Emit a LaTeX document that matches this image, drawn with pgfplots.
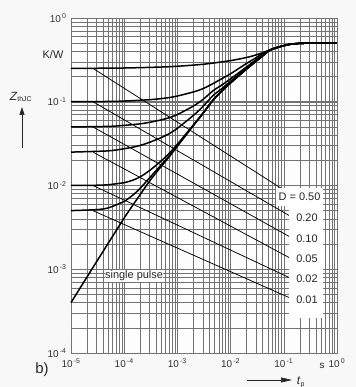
\documentclass[border=0pt]{standalone}
\usepackage{fontspec}
\setmainfont{Liberation Sans}
\usepackage{pgfplots}
\pgfplotsset{compat=1.18}
\usetikzlibrary{arrows.meta}
\definecolor{bg}{RGB}{248,248,248}
\definecolor{gridc}{RGB}{115,115,115}
\begin{document}
\begin{tikzpicture}
\useasboundingbox[fill=bg] (-71bp,-34bp) rectangle (285bp,353bp);
\begin{axis}[
  at={(0,0)}, anchor=south west,
  scale only axis, width=266bp, height=335bp,
  xmode=log, ymode=log,
  xmin=1e-5, xmax=1, ymin=1e-4, ymax=1,
  axis background/.style={fill=white!70!bg},
  axis line style={gridc, line width=0.5bp},
  grid=both,
  major grid style={gridc, line width=0.55bp},
  minor grid style={gridc, line width=0.5bp},
  major tick length=0pt, minor tick length=0pt,
  xtick={1e-5,1e-4,1e-3,1e-2,1e-1,1},
  xticklabels={10\textsuperscript{\,-5},10\textsuperscript{\,-4},10\textsuperscript{\,-3},10\textsuperscript{\,-2},10\textsuperscript{\,-1},10\textsuperscript{\,0}},
  ytick={1e-4,1e-3,1e-2,1e-1,1},
  yticklabels={10\textsuperscript{\,-4},10\textsuperscript{\,-3},10\textsuperscript{\,-2},10\textsuperscript{\,-1},10\textsuperscript{\,0}},
  tick label style={font=\fontsize{10}{12}\selectfont, text=black!80},
  xticklabel style={yshift=-2.5bp},
  yticklabel style={xshift=-1bp},
  clip=false,
]
% single pulse
\addplot[black, line width=1.5bp, smooth, tension=0.4] coordinates {
(1e-5,4.0e-4)(3e-5,1.22e-3)(5e-5,2.04e-3)(1e-4,4.1e-3)(1.5e-4,6.0e-3)(2e-4,7.8e-3)(3e-4,1.13e-2)(5e-4,1.70e-2)(7e-4,2.2e-2)(1e-3,2.95e-2)(2e-3,5.2e-2)(3e-3,7.2e-2)(4.7e-3,0.105)(7e-3,0.136)(1e-2,0.168)(2e-2,0.246)(3e-2,0.304)(4e-2,0.352)(5.5e-2,0.415)(8.5e-2,0.455)(0.13,0.485)(0.2,0.498)(0.3,0.5)(1,0.5)};
% D = 0.01
\addplot[black, line width=1.5bp, smooth, tension=0.4] coordinates {
(1e-5,0.005016)(3e-5,0.005147)(5e-5,0.0054)(1e-4,0.006466)(1.5e-4,0.00781)(2e-4,0.00926)(3e-4,0.01236)(5e-4,0.01772)(7e-4,0.02256)(1e-3,0.02992)(2e-3,0.05224)(3e-3,0.07217)(4.7e-3,0.10512)(7e-3,0.1361)(1e-2,0.1681)(2e-2,0.2461)(3e-2,0.3041)(4e-2,0.3520)(5.5e-2,0.415)(8.5e-2,0.455)(0.13,0.485)(0.2,0.498)(0.3,0.5)(1,0.5)};
% D = 0.02
\addplot[black, line width=1.5bp, smooth, tension=0.4] coordinates {
(1e-5,0.01001)(3e-5,0.01007)(5e-5,0.01021)(1e-4,0.01081)(1.5e-4,0.01166)(2e-4,0.01268)(3e-4,0.01509)(5e-4,0.01972)(7e-4,0.02417)(1e-3,0.03115)(2e-3,0.05295)(3e-3,0.07269)(4.7e-3,0.10548)(7e-3,0.1364)(1e-2,0.1683)(2e-2,0.2462)(3e-2,0.3042)(4e-2,0.3521)(5.5e-2,0.415)(8.5e-2,0.455)(0.13,0.485)(0.2,0.498)(0.3,0.5)(1,0.5)};
% D = 0.05
\addplot[black, line width=1.5bp, smooth, tension=0.4] coordinates {
(1e-5,0.02505)(5e-5,0.0259)(1e-4,0.0275)(1.5e-4,0.0288)(2e-4,0.0301)(3e-4,0.0328)(5e-4,0.0374)(7e-4,0.0416)(1e-3,0.0482)(2e-3,0.0687)(3e-3,0.0874)(4.7e-3,0.119)(7e-3,0.145)(1e-2,0.176)(2e-2,0.2510)(3e-2,0.3086)(4e-2,0.3562)(5.5e-2,0.415)(8.5e-2,0.455)(0.13,0.485)(0.2,0.498)(0.3,0.5)(1,0.5)};
% D = 0.1
\addplot[black, line width=1.5bp, smooth, tension=0.4] coordinates {
(1e-5,0.05001)(5e-5,0.0508)(1e-4,0.0522)(2e-4,0.0545)(3e-4,0.0568)(5e-4,0.0608)(7e-4,0.0645)(1e-3,0.0703)(2e-3,0.0889)(3e-3,0.1061)(4.7e-3,0.1356)(7e-3,0.160)(1e-2,0.188)(2e-2,0.2607)(3e-2,0.3174)(4e-2,0.3647)(5.5e-2,0.415)(8.5e-2,0.455)(0.13,0.485)(0.2,0.498)(0.3,0.5)(1,0.5)};
% D = 0.2
\addplot[black, line width=1.5bp, smooth, tension=0.4] coordinates {
(1e-5,0.10002)(5e-5,0.1008)(1e-4,0.1019)(3e-4,0.1058)(5e-4,0.1091)(7e-4,0.1122)(1e-3,0.117)(2e-3,0.131)(3e-3,0.143)(4.7e-3,0.165)(7e-3,0.19)(1e-2,0.216)(2e-2,0.287)(3e-2,0.335)(4e-2,0.38)(5.5e-2,0.415)(8.5e-2,0.455)(0.13,0.485)(0.2,0.498)(0.3,0.5)(1,0.5)};
% D = 0.5
\addplot[black, line width=1.5bp, smooth, tension=0.4] coordinates {
(1e-5,0.25)(1e-4,0.253)(7e-4,0.262)(3e-3,0.28)(1e-2,0.31)(2.3e-2,0.345)(4e-2,0.385)(5.5e-2,0.415)(8.5e-2,0.455)(0.13,0.485)(0.2,0.498)(0.3,0.5)(1,0.5)};
% leader lines
\addplot[black, line width=0.75bp] coordinates {(2.6e-5,0.25)(0.0885,0.0093)};
\addplot[black, line width=0.75bp] coordinates {(2.6e-5,0.1)(0.131,0.00432)};
\addplot[black, line width=0.75bp] coordinates {(2.6e-5,0.05)(0.131,0.00243)};
\addplot[black, line width=0.75bp] coordinates {(2.6e-5,0.025)(0.131,0.00136)};
\addplot[black, line width=0.75bp] coordinates {(2.6e-5,0.01)(0.131,0.000787)};
\addplot[black, line width=0.75bp] coordinates {(2.6e-5,0.005)(0.131,0.000454)};
% label box
\fill[white] (rel axis cs:0.8195,0.1045) rectangle (rel axis cs:0.9474,0.4418);
\fill[white] (rel axis cs:0.7707,0.4388) rectangle (rel axis cs:0.9474,0.4925);
\begin{scope}[every node/.style={font=\fontsize{11}{13}\selectfont, text=black!85, inner sep=0pt}]
\node at (rel axis cs:0.859,0.466) {D = 0.50};
\node at (rel axis cs:0.887,0.403) {0.20};
\node at (rel axis cs:0.887,0.340) {0.10};
\node at (rel axis cs:0.887,0.281) {0.05};
\node at (rel axis cs:0.887,0.221) {0.02};
\node at (rel axis cs:0.887,0.158) {0.01};
\node[fill=white, inner sep=0.5bp] at (rel axis cs:0.237,0.230) {single pulse};
\end{scope}
\end{axis}
\begin{scope}[every node/.style={text=black!85, inner sep=0pt}]
\node[font=\fontsize{11}{13}\selectfont] at (-18bp,298bp) {K/W};
\node[font=\fontsize{12}{13}\selectfont] at (-50bp,256bp) {\textit{Z}\textsubscript{\fontsize{7}{8}\selectfont thJC}};
\draw[black!85, line width=0.6bp, -{Triangle[length=8bp,width=5bp]}] (-49bp,205bp) -- (-49bp,246bp);
\node[font=\fontsize{12}{13}\selectfont] at (230bp,-29bp) {\textit{t}\textsubscript{\fontsize{7}{8}\selectfont p}};
\draw[black!85, line width=0.6bp, -{Triangle[length=11bp,width=5bp]}] (176bp,-27bp) -- (221bp,-27bp);
\node[font=\fontsize{15}{17}\selectfont] at (-29bp,-17bp) {b)};
\node[font=\fontsize{10}{12}\selectfont] at (251bp,-13bp) {s};
\end{scope}
\end{tikzpicture}
\end{document}
